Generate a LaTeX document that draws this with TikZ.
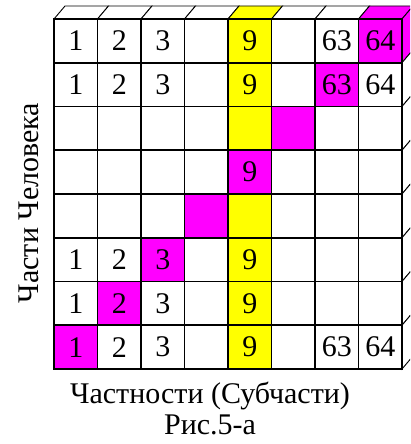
\documentclass[tikz,border=0pt]{standalone}
\usepackage{fontspec}
\setmainfont{Liberation Serif}
\definecolor{cyel}{HTML}{FFFF00}
\definecolor{cmag}{HTML}{FF00FF}
\begin{document}
\begin{tikzpicture}[x=1pt,y=-1pt,
  cell/.style={draw, line width=1.8pt, minimum width=43.5pt, minimum height=43.75pt,
    inner sep=0pt, outer sep=0pt, font=\fontsize{30}{32}\selectfont},
  face/.style={draw, line width=0.9pt},
  lab/.style={font=\fontsize{30}{32}\selectfont, inner sep=0pt, anchor=base}]
\useasboundingbox (0,0) rectangle (410,444);
\clip (0,0) rectangle (410,444);
% top faces
\foreach \c/\f in {1/white,2/white,3/white,4/white,5/cyel,6/white,7/white,8/cmag}{
  \path[face, fill=\f] ({54+43.5*(\c-1)},19) -- ++(43.5,0) -- ++(11,-13) -- ++(-43.5,0) -- cycle;
}
% right faces
\foreach \r/\f in {1/cmag,2/white,3/white,4/white,5/white,6/white,7/white,8/white}{
  \path[face, fill=\f] (402,{19+43.75*(\r-1)}) -- ++(0,43.75) -- ++(11,-13) -- ++(0,-43.75) -- cycle;
}
% rows
\foreach \r/\list in {
  1/{1/white/1,2/white/2,3/white/3,4/white/,5/cyel/9,6/white/,7/white/63,8/cmag/64},
  2/{1/white/1,2/white/2,3/white/3,4/white/,5/cyel/9,6/white/,7/cmag/63,8/white/64},
  3/{1/white/,2/white/,3/white/,4/white/,5/cyel/,6/cmag/,7/white/,8/white/},
  4/{1/white/,2/white/,3/white/,4/white/,5/cmag/9,6/white/,7/white/,8/white/},
  5/{1/white/,2/white/,3/white/,4/cmag/,5/cyel/,6/white/,7/white/,8/white/},
  6/{1/white/1,2/white/2,3/cmag/3,4/white/,5/cyel/9,6/white/,7/white/,8/white/},
  7/{1/white/1,2/cmag/2,3/white/3,4/white/,5/cyel/9,6/white/,7/white/,8/white/},
  8/{1/cmag/1,2/white/2,3/white/3,4/white/,5/cyel/9,6/white/,7/white/63,8/white/64}}{
  \foreach \c/\f/\t in \list {
    \node[cell, fill=\f] (c\r\c) at ({54+43.5*(\c-0.5)},{19+43.75*(\r-0.5)}) {\t};
  }
}
\node[lab, rotate=90] (ylab) at (38,203) {Части Человека};
\node[lab] (xlab) at (210,403) {Частности (Субчасти)};
\node[lab] (fig) at (210,434) {Рис.5-а};
\end{tikzpicture}
\end{document}
